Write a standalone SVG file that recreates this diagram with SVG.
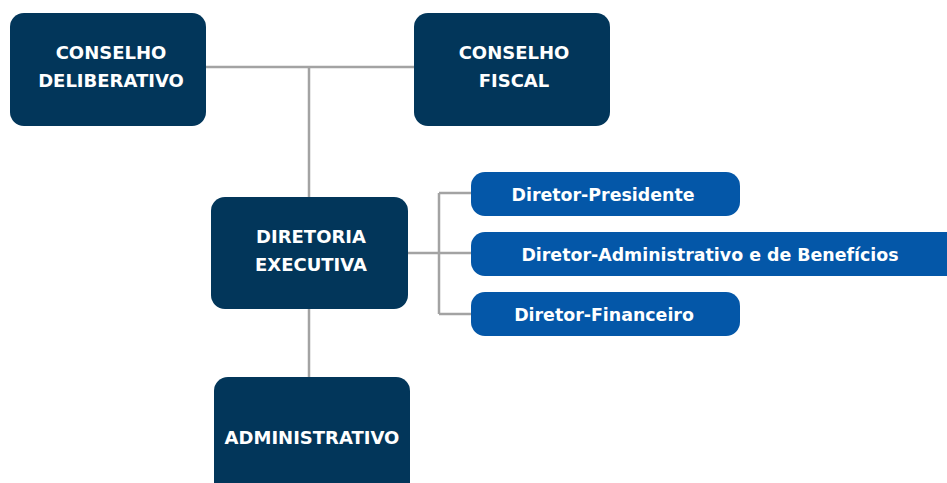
<svg xmlns="http://www.w3.org/2000/svg" width="947" height="483" viewBox="0 0 947 483">
<style>
.box{fill:#02365A}
.pill{fill:#0457A8}
.t{fill:#fff;font-family:"DejaVu Sans","Liberation Sans",sans-serif;font-weight:bold;font-size:18px;text-anchor:middle}
.p{font-size:17.4px}
.ln{stroke:#A3A3A3;stroke-width:2.5;fill:none}
</style>
<rect width="947" height="483" fill="#fff"/>
<g id="connectors">
<path class="ln" d="M206 67H414M309 67V197M309 309V377M408 253H471M439 193V314M439 193H471M439 314H471"/>
</g>
<g id="conselho-deliberativo">
<rect class="box" x="10" y="13" width="196" height="113" rx="14"/>
<text class="t" x="111" y="59">CONSELHO</text>
<text class="t" x="111" y="87">DELIBERATIVO</text>
</g>
<g id="conselho-fiscal">
<rect class="box" x="414" y="13" width="196" height="113" rx="14"/>
<text class="t" x="514" y="59">CONSELHO</text>
<text class="t" x="514" y="87">FISCAL</text>
</g>
<g id="diretoria-executiva">
<rect class="box" x="211" y="197" width="197" height="112" rx="14"/>
<text class="t" x="311" y="243">DIRETORIA</text>
<text class="t" x="311" y="271">EXECUTIVA</text>
</g>
<g id="administrativo">
<rect class="box" x="214" y="377" width="196" height="120" rx="14"/>
<text class="t" x="312" y="444">ADMINISTRATIVO</text>
</g>
<g id="diretor-presidente">
<rect class="pill" x="471" y="172" width="269" height="44" rx="14"/>
<text class="t p" x="603" y="201">Diretor-Presidente</text>
</g>
<g id="diretor-administrativo">
<rect class="pill" x="471" y="232" width="490" height="44" rx="14"/>
<text class="t p" x="710" y="261">Diretor-Administrativo e de Benefícios</text>
</g>
<g id="diretor-financeiro">
<rect class="pill" x="471" y="292" width="269" height="44" rx="14"/>
<text class="t p" x="604" y="321">Diretor-Financeiro</text>
</g>
</svg>
